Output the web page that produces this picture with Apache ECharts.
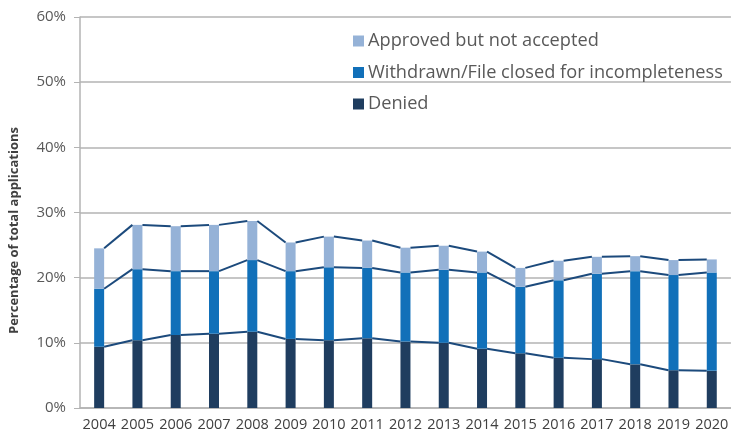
<!DOCTYPE html>
<html>
<head>
<meta charset="utf-8">
<script src="https://cdn.jsdelivr.net/npm/echarts@6/dist/echarts.min.js"></script>
<style>
  html, body { margin: 0; padding: 0; background: #fff; }
  #chart { width: 731px; height: 434px; }
</style>
</head>
<body>
<div id="chart"></div>
<script>
const years = ['2004', '2005', '2006', '2007', '2008', '2009', '2010', '2011', '2012',
    '2013', '2014', '2015', '2016', '2017', '2018', '2019', '2020'];
// shares of total applications, in percent
const denied = [9.4, 10.4, 11.2, 11.4, 11.7, 10.6, 10.4, 10.7, 10.2, 10.0, 9.1, 8.4, 7.7, 7.5, 6.7, 5.8, 5.7];
const withdrawn = [8.9, 10.9, 9.8, 9.6, 11.0, 10.4, 11.2, 10.8, 10.6, 11.2, 11.7, 10.2, 11.9, 13.1, 14.3, 14.6, 15.1];
const approved = [6.2, 6.8, 6.9, 7.1, 6.0, 4.4, 4.7, 4.2, 3.8, 3.7, 3.2, 2.9, 3.0, 2.6, 2.3, 2.3, 2.0];
const yTicks = [0, 10, 20, 30, 40, 50, 60];

const font = '"Open Sans", Lato, sans-serif';
const barW = 10;

// running totals, for the connecting lines between bars
const level1 = denied.map(v => v);
const level2 = denied.map((v, i) => +(v + withdrawn[i]).toFixed(1));
const level3 = level2.map((v, i) => +(v + approved[i]).toFixed(1));

function linkData(arr) {
    const out = [];
    for (let i = 0; i < arr.length - 1; i++) {
        out.push([i, arr[i], arr[i + 1]]);
    }
    return out;
}

function linkSeries(arr) {
    return {
        type: 'custom',
        silent: true,
        z: 5,
        data: linkData(arr),
        renderItem(params, api) {
            const a = api.coord([api.value(0), api.value(1)]);
            const b = api.coord([api.value(0) + 1, api.value(2)]);
            return {
                type: 'line',
                shape: { x1: a[0] + barW / 2, y1: a[1], x2: b[0] - barW / 2, y2: b[1] },
                style: { stroke: '#1c4a7c', lineWidth: 2 }
            };
        }
    };
}

const chart = echarts.init(document.getElementById('chart'));
chart.setOption({
    animation: false,
    grid: { left: 73, right: -5, top: 17, bottom: 26 },
    legend: {
        orient: 'vertical',
        left: 348,
        top: 26,
        itemGap: 11.5,
        itemWidth: 11,
        itemHeight: 11,
        icon: 'rect',
        data: ['Approved but not accepted', 'Withdrawn/File closed for incompleteness', 'Denied'],
        textStyle: { fontFamily: font, fontSize: 18.2, lineHeight: 20, color: '#595959', padding: [0, 0, 0, -1] }
    },
    xAxis: {
        type: 'category',
        data: years,
        boundaryGap: true,
        axisLine: { lineStyle: { color: '#b3b3b3', width: 1.5 } },
        axisTick: { show: false },
        axisLabel: { fontFamily: font, fontSize: 14.5, color: '#404040', margin: 9, interval: 0 }
    },
    yAxis: {
        type: 'value',
        min: yTicks[0],
        max: yTicks[yTicks.length - 1],
        interval: 10,
        name: 'Percentage of total applications',
        nameLocation: 'middle',
        nameGap: 59,
        nameTextStyle: { fontFamily: font, fontSize: 13, fontWeight: 'bold', color: '#404040', padding: [0, 36, 0, 0] },
        axisLine: { show: true, lineStyle: { color: '#b3b3b3', width: 1.5 } },
        axisTick: { show: true, length: 6, lineStyle: { color: '#b3b3b3' } },
        splitLine: { lineStyle: { color: '#b3b3b3', width: 1.5 } },
        axisLabel: { fontFamily: font, fontSize: 15, color: '#595959', margin: 14, formatter: '{value}%' }
    },
    series: [
        {
            name: 'Denied', type: 'bar', stack: 'all', barWidth: barW, z: 3,
            itemStyle: { color: '#1f3d5f' }, data: denied
        },
        {
            name: 'Withdrawn/File closed for incompleteness', type: 'bar', stack: 'all', barWidth: barW, z: 3,
            itemStyle: { color: '#1170b9' }, data: withdrawn
        },
        {
            name: 'Approved but not accepted', type: 'bar', stack: 'all', barWidth: barW, z: 3,
            itemStyle: { color: '#95b2d7' }, data: approved
        },
        linkSeries(level1),
        linkSeries(level2),
        linkSeries(level3)
    ]
});
</script>
</body>
</html>
